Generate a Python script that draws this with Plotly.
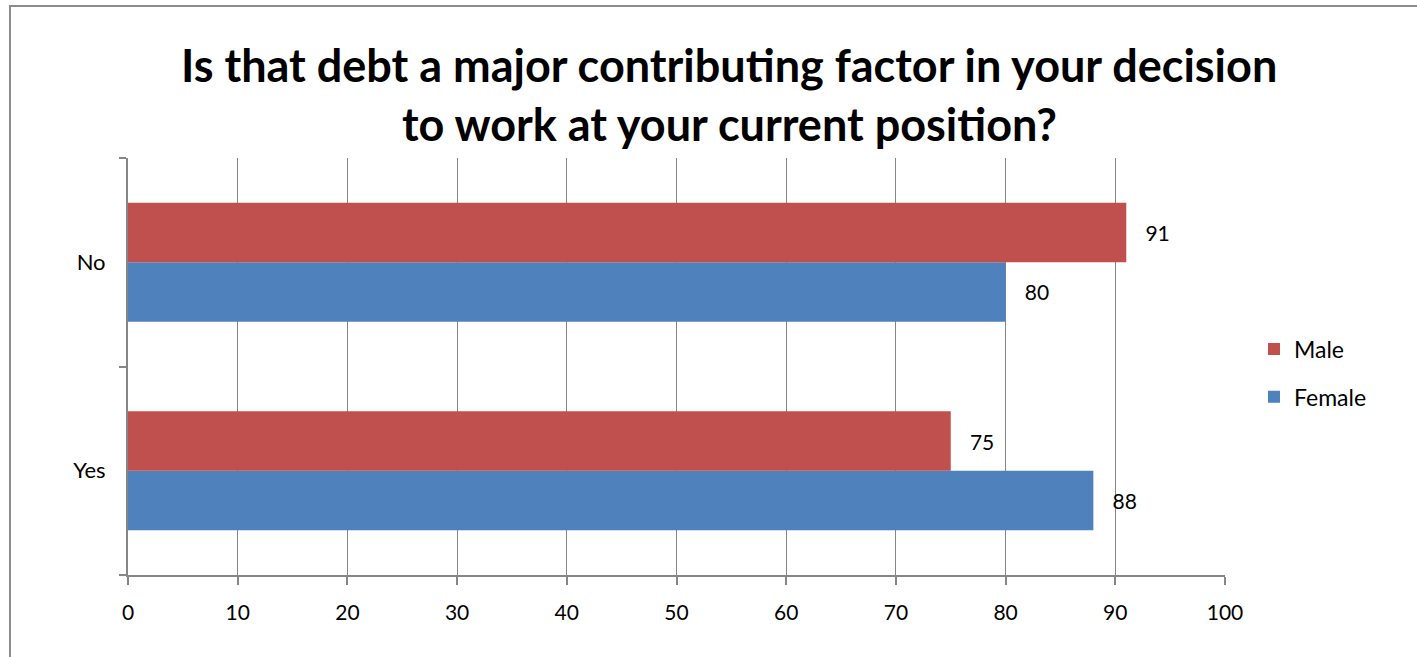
import plotly.graph_objects as go

categories = ["Yes", "No"]
male = [75, 91]
female = [88, 80]
x_ticks = [0, 10, 20, 30, 40, 50, 60, 70, 80, 90, 100]
title_lines = ["Is that debt a major contributing factor in your decision",
               "to work at your current position?"]

W, H = 1417, 657
L, R, T, B = 128, 1225, 158, 575
FONT = "Lato"

def px_x(p):
    return (p - L) / (R - L)

def px_y(p):
    return (B - p) / (B - T)

fig = go.Figure()
fig.add_trace(go.Bar(y=categories, x=female, name="Female", orientation="h",
                     marker=dict(color="#4F81BD", line=dict(width=0)),
                     text=female, texttemplate="   %{x}", textposition="outside",
                     cliponaxis=False,
                     textfont=dict(size=21, color="black", family=FONT),
                     legendgroup="f", legendrank=2))
fig.add_trace(go.Bar(y=categories, x=male, name="Male", orientation="h",
                     marker=dict(color="#C0504D", line=dict(width=0)),
                     text=male, texttemplate="   %{x}", textposition="outside",
                     cliponaxis=False,
                     textfont=dict(size=21, color="black", family=FONT),
                     legendgroup="m", legendrank=1))

fig.add_shape(type="rect", xref="paper", yref="paper",
              x0=px_x(10), x1=px_x(1440), y0=px_y(680), y1=px_y(6),
              line=dict(color="#8c8c8c", width=2), fillcolor="rgba(0,0,0,0)")

for txt, yc in zip(title_lines, [65, 124]):
    fig.add_annotation(text="<b>" + txt + "</b>", xref="paper", yref="paper",
                       x=px_x(729), y=px_y(yc), xanchor="center", yanchor="middle",
                       showarrow=False,
                       font=dict(size=45, family=FONT, color="black"))

fig.update_layout(
    width=W, height=H,
    margin=dict(l=L, r=W - R, t=T, b=H - B, pad=0, autoexpand=False),
    paper_bgcolor="white", plot_bgcolor="white",
    font=dict(family=FONT, size=21, color="black"),
    barmode="group", bargap=0.43, bargroupgap=0,
    legend=dict(x=px_x(1254), xanchor="left", y=px_y(373), yanchor="middle",
                traceorder="grouped", tracegroupgap=15, itemwidth=30,
                font=dict(size=23, family=FONT), bgcolor="rgba(0,0,0,0)"),
    xaxis=dict(range=[0, 100], tickvals=x_ticks, ticktext=[str(v) for v in x_ticks],
               showgrid=True, gridcolor="#868686", gridwidth=1,
               showline=True, linecolor="#868686", linewidth=2,
               ticks="outside", ticklen=8, tickcolor="#868686", tickwidth=2,
               ticklabelstandoff=10, zeroline=False, tickfont=dict(size=21)),
    yaxis=dict(categoryorder="array", categoryarray=categories,
               showline=True, linecolor="#868686", linewidth=2,
               ticks="outside", tickson="boundaries", ticklen=7,
               tickcolor="#868686", tickwidth=2, showgrid=False,
               ticklabelstandoff=16, tickfont=dict(size=22)),
)

fig.write_html("out.html", config={"displayModeBar": False},
               post_script="document.body.style.margin='0';document.body.style.overflow='hidden';")
